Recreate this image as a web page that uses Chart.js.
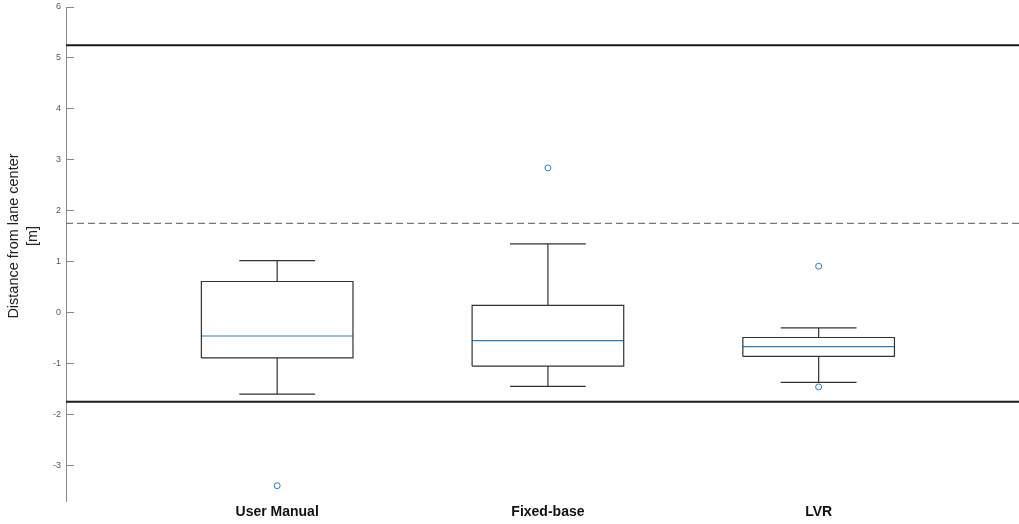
<!DOCTYPE html>
<html>
<head>
<meta charset="utf-8">
<script src="https://cdn.jsdelivr.net/npm/chart.js@4/dist/chart.umd.min.js"></script>
<style>
  html, body { margin: 0; padding: 0; background: #fff; }
  #chart { display: block; }
</style>
</head>
<body>
<canvas id="chart" width="1019" height="524"></canvas>
<script>
// lateral position per driving condition
const categories = ['User Manual', 'Fixed-base', 'LVR'];
const whiskerLow = [-1.60, -1.45, -1.37];
const q1 = [-0.89, -1.05, -0.86];
const median = [-0.46, -0.55, -0.67];
const q3 = [0.61, 0.14, -0.49];
const whiskerHigh = [1.02, 1.35, -0.30];

// outliers: which group (1-based) and value
const outlierGroup = [1, 2, 3, 3];
const outlierValue = [-3.40, 2.84, 0.91, -1.46];

// lane edges and lane divider
const laneEdges = [5.25, -1.75];
const laneDivider = [1.75];

const yTicks = [-3, -2, -1, 0, 1, 2, 3, 4, 5, 6];
const xRange = [0.22, 3.74];
const yRange = [-3.7, 6];

const BOX_HALF = 0.28;
const CAP_HALF = 0.14;
const BOX_COLOR = '#333';
const BLUE = '#1f80cf';

function seg(x1, y1, x2, y2) {
  return [{ x: x1, y: y1 }, { x: x2, y: y2 }];
}

function lineSet(data, color, width, dash) {
  return {
    type: 'scatter',
    data: data,
    showLine: true,
    borderColor: color,
    borderWidth: width,
    borderDash: dash || [],
    pointRadius: 0,
    pointHoverRadius: 0,
    fill: false,
    tension: 0
  };
}

const datasets = [];

laneEdges.forEach(v => {
  datasets.push(lineSet(seg(xRange[0], v, xRange[1], v), '#1a1a1a', 2));
});
laneDivider.forEach(v => {
  datasets.push(lineSet(seg(xRange[0], v, xRange[1], v), '#7a7a7a', 1.3, [7, 4]));
});

categories.forEach((c, i) => {
  const x = i + 1;
  // whiskers + caps
  datasets.push(lineSet(seg(x, q3[i], x, whiskerHigh[i]), BOX_COLOR, 1.2));
  datasets.push(lineSet(seg(x, q1[i], x, whiskerLow[i]), BOX_COLOR, 1.2));
  datasets.push(lineSet(seg(x - CAP_HALF, whiskerHigh[i], x + CAP_HALF, whiskerHigh[i]), BOX_COLOR, 1.2));
  datasets.push(lineSet(seg(x - CAP_HALF, whiskerLow[i], x + CAP_HALF, whiskerLow[i]), BOX_COLOR, 1.2));
  // box
  datasets.push(lineSet([
    { x: x - BOX_HALF, y: q1[i] },
    { x: x + BOX_HALF, y: q1[i] },
    { x: x + BOX_HALF, y: q3[i] },
    { x: x - BOX_HALF, y: q3[i] },
    { x: x - BOX_HALF, y: q1[i] }
  ], BOX_COLOR, 1.2));
  // median
  datasets.push(lineSet(seg(x - BOX_HALF, median[i], x + BOX_HALF, median[i]), BLUE, 1.2));
});

datasets.push({
  type: 'scatter',
  data: outlierGroup.map((g, i) => ({ x: g, y: outlierValue[i] })),
  showLine: false,
  pointStyle: 'circle',
  pointRadius: 3,
  pointBorderWidth: 1,
  pointBorderColor: BLUE,
  pointBackgroundColor: 'rgba(0,0,0,0)'
});

// rotated two-line y axis title
const yTitlePlugin = {
  id: 'yTitle',
  afterDraw(chart) {
    const ctx = chart.ctx;
    ctx.save();
    ctx.fillStyle = '#222';
    ctx.font = '14.5px "Liberation Sans", Arial, sans-serif';
    ctx.textAlign = 'center';
    ctx.textBaseline = 'middle';
    ctx.translate(0, 236);
    ctx.rotate(-Math.PI / 2);
    ctx.fillText('Distance from lane center', 0, 14);
    ctx.fillText('[m]', 0, 33);
    ctx.restore();
  }
};

new Chart(document.getElementById('chart'), {
  type: 'scatter',
  data: { datasets: datasets },
  plugins: [yTitlePlugin],
  options: {
    responsive: false,
    animation: false,
    layout: { autoPadding: false, padding: { top: 7, right: 0, bottom: 0, left: 0 } },
    plugins: {
      legend: { display: false },
      tooltip: { enabled: false }
    },
    scales: {
      x: {
        type: 'linear',
        min: xRange[0],
        max: xRange[1],
        afterBuildTicks: (scale) => {
          scale.ticks = categories.map((c, i) => ({ value: i + 1 }));
        },
        afterFit: (scale) => {
          scale.height = 23;
          scale.paddingLeft = 0;
          scale.paddingRight = 0;
        },
        ticks: {
          callback: (v) => categories[v - 1],
          color: '#111',
          padding: 3,
          maxRotation: 0,
          autoSkip: false,
          font: { family: '"Liberation Sans", Arial, sans-serif', size: 14, weight: 'bold' }
        },
        grid: { display: false, drawTicks: false },
        border: { display: false }
      },
      y: {
        type: 'linear',
        min: yRange[0],
        max: yRange[1],
        afterBuildTicks: (scale) => {
          scale.ticks = yTicks.map(v => ({ value: v }));
        },
        afterFit: (scale) => {
          scale.width = 66;
          scale.paddingTop = 0;
          scale.paddingBottom = 0;
        },
        ticks: {
          color: '#555',
          padding: 13,
          font: { family: '"Liberation Sans", Arial, sans-serif', size: 9 }
        },
        grid: {
          drawOnChartArea: false,
          tickLength: -8,
          color: '#8a8a8a',
          lineWidth: 1
        },
        border: { color: '#8a8a8a', width: 1 }
      }
    }
  }
});
</script>
</body>
</html>
